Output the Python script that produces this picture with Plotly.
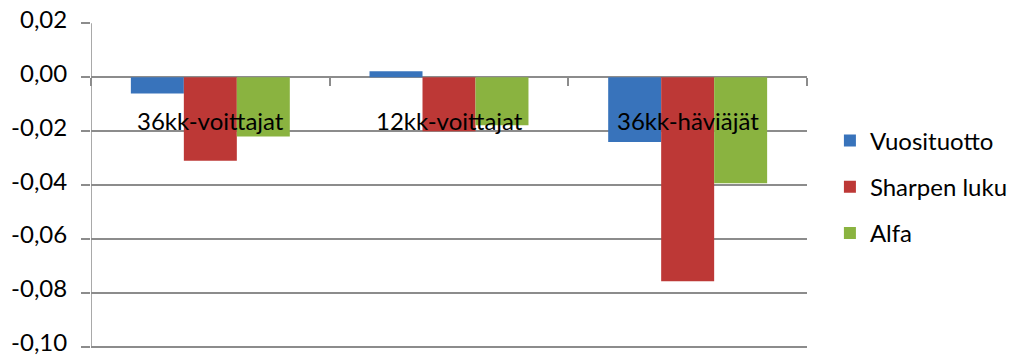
import plotly.graph_objects as go

categories = ["36kk-voittajat", "12kk-voittajat", "36kk-häviäjät"]
series_names = ["Vuosituotto", "Sharpen luku", "Alfa"]
vuosituotto = [-0.006, 0.0022, -0.024]
sharpen_luku = [-0.031, -0.020, -0.0756]
alfa = [-0.022, -0.0178, -0.0393]
y_ticks = [0.02, 0.00, -0.02, -0.04, -0.06, -0.08, -0.10]
y_ticktext = ["0,02", "0,00", "-0,02", "-0,04", "-0,06", "-0,08", "-0,10"]

colors = ["#3873bb", "#bd3836", "#8ab340"]
FONT = "Lato"
FS = 24

fig = go.Figure()
for i, (name, vals) in enumerate(zip(series_names, [vuosituotto, sharpen_luku, alfa])):
    fig.add_trace(go.Bar(
        x=categories, y=vals, name=name, legendgroup=name,
        marker=dict(color=colors[i], line=dict(width=0)),
        hoverinfo="skip",
    ))

for c in categories:
    fig.add_annotation(x=c, y=0, xref="x", yref="y", text=c, showarrow=False,
                       yanchor="top", yshift=-27,
                       font=dict(family=FONT, size=FS, color="#000000"))

GRID = "#8c8c8c"
y_lo, y_hi = -0.1015, 0.0201
fig.update_layout(
    width=1021, height=356,
    margin=dict(l=91, r=214, t=23, b=5, autoexpand=False),
    paper_bgcolor="white", plot_bgcolor="white",
    barmode="group", bargap=0.334, bargroupgap=0,
    showlegend=True,
    legend=dict(x=1.032, xanchor="left", y=0.5, yanchor="middle",
                font=dict(family=FONT, size=FS, color="#000000"),
                tracegroupgap=12, bgcolor="rgba(0,0,0,0)"),
    xaxis=dict(range=[-0.5, 2.5], showticklabels=False, showgrid=False,
               zeroline=False, ticks="outside", tickson="boundaries",
               ticklen=8, tickcolor=GRID, tickwidth=1.5,
               anchor="free", position=(0 - y_lo) / (y_hi - y_lo), showline=False),
    yaxis=dict(range=[y_lo, y_hi], tickvals=y_ticks, ticktext=y_ticktext,
               showgrid=True, gridcolor=GRID, gridwidth=1.5,
               zeroline=True, zerolinecolor=GRID, zerolinewidth=1.5,
               showline=False,
               ticks="outside", ticklen=9, tickcolor=GRID, tickwidth=1.5,
               ticklabelstandoff=9, ticklabelshift=-4, automargin=False,
               ticklabeloverflow="allow",
               tickfont=dict(family=FONT, size=FS, color="#000000")),
    font=dict(family=FONT),
)
# vertical value-axis line from the top gridline to the bottom gridline
fig.add_shape(type="line", xref="x", yref="y", x0=-0.5, x1=-0.5,
              y0=y_ticks[-1], y1=y_ticks[0], line=dict(color=GRID, width=1.5))

fig.write_html("out.html")
